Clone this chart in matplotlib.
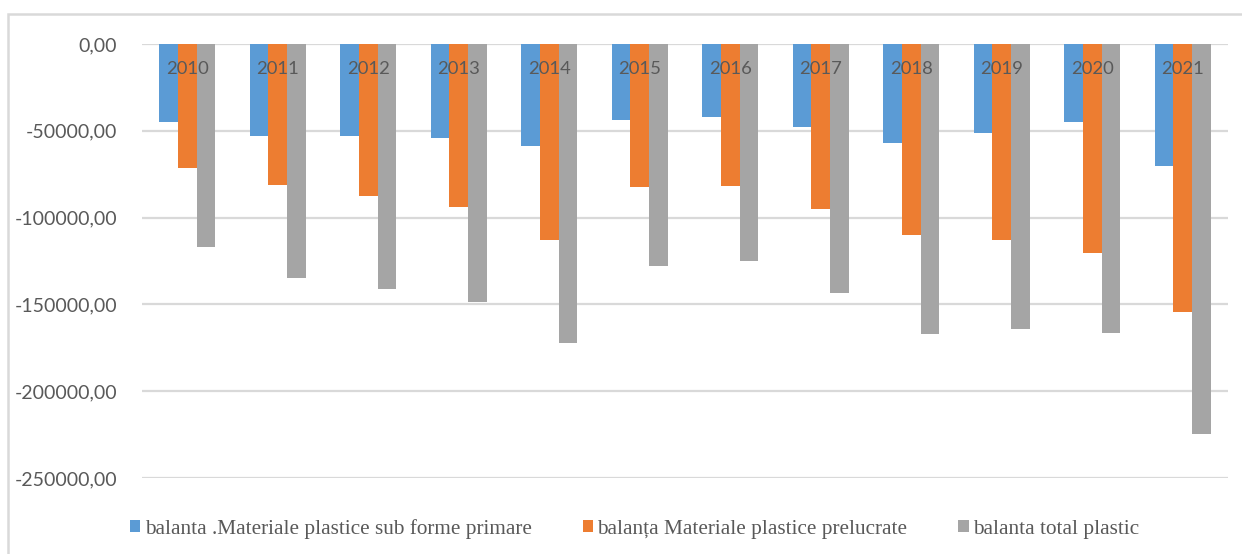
import matplotlib
matplotlib.use("Agg")
import matplotlib.pyplot as plt
import numpy as np
from matplotlib.patches import Rectangle

years = ["2010", "2011", "2012", "2013", "2014", "2015", "2016", "2017", "2018", "2019", "2020", "2021"]
primare = [-44800, -53100, -53100, -54400, -59000, -44000, -41900, -47900, -56900, -51000, -44800, -70000]
prelucrate = [-71400, -81200, -87700, -93700, -113100, -82500, -81900, -95200, -110200, -113100, -120400, -154600]
total = [-116700, -134600, -141200, -148700, -172300, -127900, -124800, -143500, -167100, -164000, -166300, -224800]
series_names = ["balanta .Materiale plastice sub forme primare",
                "balanța Materiale plastice prelucrate",
                "balanta total plastic"]
colors = ["#5b9bd5", "#ed7d31", "#a5a5a5"]
yticks = [0, -50000, -100000, -150000, -200000, -250000]

W, H = 1242, 554
fig = plt.figure(figsize=(W / 100, H / 100), dpi=100)
ax = fig.add_axes([142 / W, 1 - 478 / H, (1228 - 142) / W, (478 - 44) / H])

x = np.arange(len(years))
bw = 0.207
handles = []
for i, (vals, c) in enumerate(zip([primare, prelucrate, total], colors)):
    b = ax.bar(x + (i - 1) * bw, vals, bw, color=c, zorder=2, label=series_names[i])
    handles.append(b)

ax.set_xlim(-0.5, len(years) - 0.5)
ax.set_ylim(-250000, 0)
ax.set_yticks(yticks)
ax.set_yticklabels([f"{v:.2f}".replace(".", ",") for v in yticks],
                   fontfamily="Lato", fontsize=14, color="#595959")
ax.set_xticks([])
ax.tick_params(axis="y", length=0, pad=18)
for s in ax.spines.values():
    s.set_visible(False)
ax.grid(axis="y", color="#d9d9d9", linewidth=1.6, zorder=0)
ax.set_axisbelow(True)

for xi, yr in zip(x, years):
    ax.text(xi, -14300, yr, ha="center", va="center", fontfamily="Lato",
            fontsize=13.3, color="#595959", zorder=3)

leg = fig.legend(handles=handles, labels=series_names, loc="center",
                 bbox_to_anchor=(0.511, 1 - 529 / H), ncol=3, frameon=False,
                 prop={"family": "Liberation Serif", "size": 15.3},
                 handlelength=0.5, handleheight=0.5, handletextpad=0.2,
                 columnspacing=2.4, labelcolor="#595959")

fig.patches.append(Rectangle((8 / W, -0.1), 1.2, 1 - 14 / H + 0.1,
                             transform=fig.transFigure, fill=False,
                             edgecolor="#d9d9d9", linewidth=1.8))

fig.savefig("out.png", dpi=100, facecolor="white")
